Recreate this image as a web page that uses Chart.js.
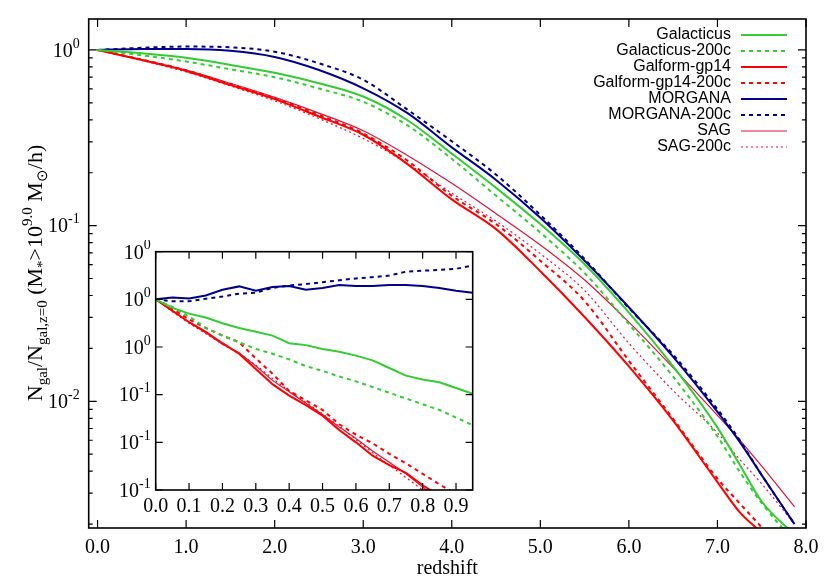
<!DOCTYPE html>
<html>
<head>
<meta charset="utf-8">
<script src="https://cdn.jsdelivr.net/npm/chart.js@4.4.1/dist/chart.umd.min.js"></script>
<style>
  body { margin: 0; background: #fff; }
  #wrap { position: relative; width: 830px; height: 581px; }
  #main { position: absolute; left: 0; top: 0; }
  #inset { position: absolute; left: 100px; top: 240px; }
</style>
</head>
<body>
<div id="wrap">
  <canvas id="main" width="830" height="581"></canvas>
  <canvas id="inset" width="380" height="285"></canvas>
</div>
<script>
// main panel: fraction of galaxies vs redshift
const redshift = [0, 0.5, 1, 1.5, 2, 2.5, 3, 3.5, 4, 4.5, 5, 5.5, 6, 6.5, 7, 7.25, 7.5, 7.87];
const galacticus      = [1, 0.957, 0.902, 0.822, 0.741, 0.646, 0.543, 0.398, 0.257, 0.164, 0.102, 0.0603, 0.0320, 0.0158, 0.00708, 0.00437, 0.00269, 0.00174];
const galacticus200c  = [1, 0.933, 0.859, 0.776, 0.700, 0.603, 0.507, 0.372, 0.240, 0.148, 0.0912, 0.0537, 0.0275, 0.0138, 0.00631, 0.00398, 0.00263, 0.00158];
const galform         = [1, 0.875, 0.759, 0.632, 0.525, 0.418, 0.329, 0.224, 0.141, 0.0955, 0.0550, 0.0302, 0.0158, 0.00776, 0.00347, 0.00234, 0.00178, 0.00112];
const galform200c     = [1, 0.881, 0.767, 0.638, 0.531, 0.427, 0.335, 0.234, 0.148, 0.102, 0.0631, 0.0372, 0.0170, 0.00794, 0.00363, 0.00263, 0.00191, 0.00112];
const morgana         = [1, 1.012, 1.012, 0.989, 0.912, 0.769, 0.605, 0.437, 0.279, 0.182, 0.111, 0.0631, 0.0343, 0.0179, 0.00871, 0.00589, 0.00380, 0.00200];
const morgana200c     = [1, 1.028, 1.045, 1.035, 0.977, 0.839, 0.676, 0.457, 0.302, 0.195, 0.115, 0.0646, 0.0339, 0.0184, 0.00902, 0.00603, 0.00380, 0.00200];
const sag             = [1, 0.881, 0.767, 0.646, 0.537, 0.437, 0.347, 0.251, 0.174, 0.117, 0.0776, 0.0490, 0.0282, 0.0155, 0.00832, 0.00603, 0.00427, 0.00251];
const sag200c         = [1, 0.871, 0.750, 0.624, 0.513, 0.407, 0.313, 0.226, 0.153, 0.106, 0.0692, 0.0427, 0.0214, 0.0115, 0.00661, 0.00468, 0.00339, 0.00200];

// inset: low redshift zoom
const insetZ = [0, 0.05, 0.1, 0.15, 0.2, 0.25, 0.3, 0.35, 0.4, 0.45, 0.5, 0.55, 0.6, 0.65, 0.7, 0.75, 0.8, 0.85, 0.9, 0.95];
const inGalacticus     = [1, 0.991, 0.985, 0.981, 0.975, 0.970, 0.966, 0.962, 0.954, 0.952, 0.948, 0.945, 0.941, 0.936, 0.928, 0.920, 0.916, 0.913, 0.907, 0.901];
const inGalacticus200c = [1, 0.992, 0.982, 0.970, 0.962, 0.955, 0.948, 0.943, 0.937, 0.930, 0.925, 0.919, 0.914, 0.908, 0.902, 0.896, 0.890, 0.884, 0.876, 0.868];
const inGalform        = [1, 0.988, 0.976, 0.966, 0.954, 0.943, 0.927, 0.911, 0.899, 0.889, 0.878, 0.863, 0.850, 0.836, 0.826, 0.818, 0.805, 0.794, 0.782, 0.770];
const inGalform200c    = [1, 0.990, 0.979, 0.970, 0.962, 0.955, 0.938, 0.922, 0.904, 0.894, 0.884, 0.869, 0.858, 0.849, 0.838, 0.828, 0.817, 0.806, 0.796, 0.785];
const inMorgana        = [1, 1.002, 1.001, 1.004, 1.010, 1.0136, 1.009, 1.013, 1.014, 1.010, 1.012, 1.015, 1.014, 1.014, 1.015, 1.015, 1.014, 1.012, 1.009, 1.007];
const inMorgana200c    = [1, 0.998, 0.998, 1.0007, 1.003, 1.006, 1.007, 1.012, 1.0145, 1.016, 1.018, 1.020, 1.022, 1.0233, 1.025, 1.029, 1.030, 1.031, 1.032, 1.0355];
const inSag            = [1, 0.988, 0.976, 0.965, 0.953, 0.944, 0.930, 0.915, 0.903, 0.891, 0.879, 0.866, 0.854, 0.841, 0.829, 0.817, 0.803, 0.790, 0.778, 0.766];
const inSag200c        = [1, 0.987, 0.975, 0.964, 0.953, 0.943, 0.931, 0.917, 0.904, 0.892, 0.880, 0.867, 0.853, 0.839, 0.826, 0.813, 0.800, 0.787, 0.774, 0.761];

const seriesNames = ["Galacticus", "Galacticus-200c", "Galform-gp14", "Galform-gp14-200c", "MORGANA", "MORGANA-200c", "SAG", "SAG-200c"];

// tick labels
const xTicks = [0, 1, 2, 3, 4, 5, 6, 7, 8];
const yTicks = [1, 0.1, 0.01];
const yTickExp = ["0", "-1", "-2"];
const insetXTicks = [0, 0.1, 0.2, 0.3, 0.4, 0.5, 0.6, 0.7, 0.8, 0.9];
const insetYTicks = [1.05, 1.0, 0.95, 0.9, 0.85, 0.8];
const insetYExp = ["0", "0", "0", "-1", "-1", "-1"];

const serif = "'Liberation Serif', 'Times New Roman', serif";
const sans = "'Liberation Sans', Arial, sans-serif";

const styles = [
  { color: "#33cc33", width: 2, dash: [] },
  { color: "#33cc33", width: 2, dash: [4, 4] },
  { color: "#ff0000", width: 2, dash: [] },
  { color: "#ff0000", width: 2, dash: [4, 4] },
  { color: "#00008b", width: 2, dash: [] },
  { color: "#00008b", width: 2, dash: [4, 4] },
  { color: "#dc143c", width: 1.2, dash: [] },
  { color: "#dc143c", width: 1.2, dash: [2, 3] }
];

function makeSets(xs, lists, smooth) {
  return lists.map((vals, i) => ({
    label: seriesNames[i],
    data: vals.map((v, k) => ({ x: xs[k], y: v })),
    borderColor: styles[i].color,
    borderWidth: styles[i].width,
    borderDash: styles[i].dash,
    pointRadius: 0,
    fill: false,
    cubicInterpolationMode: smooth ? "monotone" : "default",
    tension: 0
  }));
}

// draw "10" with a raised exponent, right aligned at xr
function drawPow(ctx, exp, xr, yc, big, small) {
  ctx.font = big + "px " + serif;
  const wb = ctx.measureText("10").width;
  ctx.font = small + "px " + serif;
  const we = ctx.measureText(exp).width;
  ctx.fillStyle = "#000";
  ctx.textAlign = "left";
  ctx.textBaseline = "alphabetic";
  ctx.font = big + "px " + serif;
  ctx.fillText("10", xr - we - wb, yc + big * 0.34);
  ctx.font = small + "px " + serif;
  ctx.fillText(exp, xr - we, yc - big * 0.12);
}

// gnuplot style frame: box, inward ticks, power labels
const gnuAxes = {
  id: "gnuAxes",
  beforeDatasetsDraw(chart, args, o) {
    if (!o.fill) return;
    const { ctx, chartArea: a } = chart;
    ctx.save();
    ctx.fillStyle = "#fff";
    ctx.fillRect(a.left, a.top, a.right - a.left, a.bottom - a.top);
    ctx.restore();
  },
  afterDraw(chart, args, o) {
    const { ctx, chartArea: a, scales: { x, y } } = chart;
    ctx.save();
    ctx.strokeStyle = "#000";
    ctx.lineWidth = 1.2;
    ctx.beginPath();
    o.xMajor.forEach(v => {
      const p = x.getPixelForValue(v);
      ctx.moveTo(p, a.bottom); ctx.lineTo(p, a.bottom - o.major);
      ctx.moveTo(p, a.top); ctx.lineTo(p, a.top + o.major);
    });
    o.yMajor.forEach(v => {
      const p = y.getPixelForValue(v);
      ctx.moveTo(a.left, p); ctx.lineTo(a.left + o.major, p);
      ctx.moveTo(a.right, p); ctx.lineTo(a.right - o.major, p);
    });
    (o.yMinor || []).forEach(v => {
      const p = y.getPixelForValue(v);
      if (p < a.top || p > a.bottom) return;
      ctx.moveTo(a.left, p); ctx.lineTo(a.left + o.minor, p);
      ctx.moveTo(a.right, p); ctx.lineTo(a.right - o.minor, p);
    });
    ctx.stroke();
    ctx.lineWidth = 1.6;
    ctx.strokeRect(a.left, a.top, a.right - a.left, a.bottom - a.top);
    o.yMajor.forEach((v, i) => {
      drawPow(ctx, o.yExp[i], a.left - o.labelGap, y.getPixelForValue(v), 20, 14);
    });
    ctx.restore();
  }
};

// legend and rotated y title for the main panel
const decor = {
  id: "decor",
  afterDraw(chart) {
    const ctx = chart.ctx;
    ctx.save();
    ctx.font = "16px " + sans;
    ctx.textBaseline = "middle";
    seriesNames.forEach((name, i) => {
      const yy = 35 + 16 * i;
      ctx.fillStyle = "#000";
      ctx.textAlign = "right";
      ctx.fillText(name, 731, yy);
      ctx.strokeStyle = styles[i].color;
      ctx.lineWidth = styles[i].width;
      ctx.setLineDash(styles[i].dash);
      ctx.beginPath();
      ctx.moveTo(741, yy); ctx.lineTo(787, yy);
      ctx.stroke();
    });
    ctx.setLineDash([]);

    const parts = [
      ["N", 0], ["gal", 1], ["/N", 0], ["gal,z=0", 1], [" (M", 0], ["*", 1],
      [">10", 0], ["9.0", -1], [" M", 0], ["\u2299", 1], ["/h)", 0]
    ];
    const big = "22px " + serif, small = "15px " + serif;
    let total = 0;
    parts.forEach(p => { ctx.font = p[1] ? small : big; total += ctx.measureText(p[0]).width; });
    ctx.translate(42, 273);
    ctx.rotate(-Math.PI / 2);
    ctx.fillStyle = "#000";
    ctx.textAlign = "left";
    ctx.textBaseline = "alphabetic";
    let xx = -total / 2;
    parts.forEach(p => {
      ctx.font = p[1] ? small : big;
      const dy = p[1] === 1 ? 5 : (p[1] === -1 ? -10 : 0);
      ctx.fillText(p[0], xx, dy);
      xx += ctx.measureText(p[0]).width;
    });
    ctx.restore();
  }
};

const yMinor = [];
[0.001, 0.01, 0.1, 1].forEach(d => { for (let m = 2; m <= 9; m++) yMinor.push(d * m); });

new Chart(document.getElementById("main"), {
  type: "line",
  data: { datasets: makeSets(redshift, [galacticus, galacticus200c, galform, galform200c, morgana, morgana200c, sag, sag200c], true) },
  options: {
    responsive: false,
    animation: false,
    layout: { padding: { top: 19, right: 24, left: 0, bottom: 0 } },
    plugins: {
      legend: { display: false },
      tooltip: { enabled: false },
      gnuAxes: { xMajor: xTicks, yMajor: yTicks, yExp: yTickExp, yMinor: yMinor, major: 8, minor: 4, labelGap: 9 }
    },
    scales: {
      x: {
        type: "linear", min: -0.1, max: 8,
        afterBuildTicks: s => { s.ticks = xTicks.map(v => ({ value: v })); },
        afterFit: s => { s.height = 53; },
        grid: { display: false, drawTicks: false },
        border: { display: false },
        ticks: { color: "#000", font: { family: serif, size: 20 }, padding: 8, maxRotation: 0, autoSkip: false, callback: v => v.toFixed(1) },
        title: { display: true, text: "redshift", color: "#000", font: { family: serif, size: 20 }, padding: { top: 0, bottom: 0 } }
      },
      y: {
        type: "logarithmic", min: 0.0019, max: 1.5,
        afterFit: s => { s.width = 88.7; },
        grid: { display: false, drawTicks: false },
        border: { display: false },
        ticks: { display: false }
      }
    }
  },
  plugins: [gnuAxes, decor]
});

new Chart(document.getElementById("inset"), {
  type: "line",
  data: { datasets: makeSets(insetZ, [inGalacticus, inGalacticus200c, inGalform, inGalform200c, inMorgana, inMorgana200c, inSag, inSag200c], false) },
  options: {
    responsive: false,
    animation: false,
    layout: { padding: { top: 11.7, right: 7.3, left: 0, bottom: 0 } },
    plugins: {
      legend: { display: false },
      tooltip: { enabled: false },
      gnuAxes: { xMajor: insetXTicks, yMajor: insetYTicks, yExp: insetYExp, major: 7, minor: 4, labelGap: 5, fill: true }
    },
    scales: {
      x: {
        type: "linear", min: 0, max: 0.95,
        afterBuildTicks: s => { s.ticks = insetXTicks.map(v => ({ value: v })); },
        afterFit: s => { s.height = 35; },
        grid: { display: false, drawTicks: false },
        border: { display: false },
        ticks: { color: "#000", font: { family: serif, size: 20 }, padding: 5, maxRotation: 0, autoSkip: false, callback: v => v.toFixed(1) }
      },
      y: {
        type: "linear", min: 0.8, max: 1.05,
        afterFit: s => { s.width = 55.7; },
        grid: { display: false, drawTicks: false },
        border: { display: false },
        ticks: { display: false }
      }
    }
  },
  plugins: [gnuAxes]
});
</script>
</body>
</html>
